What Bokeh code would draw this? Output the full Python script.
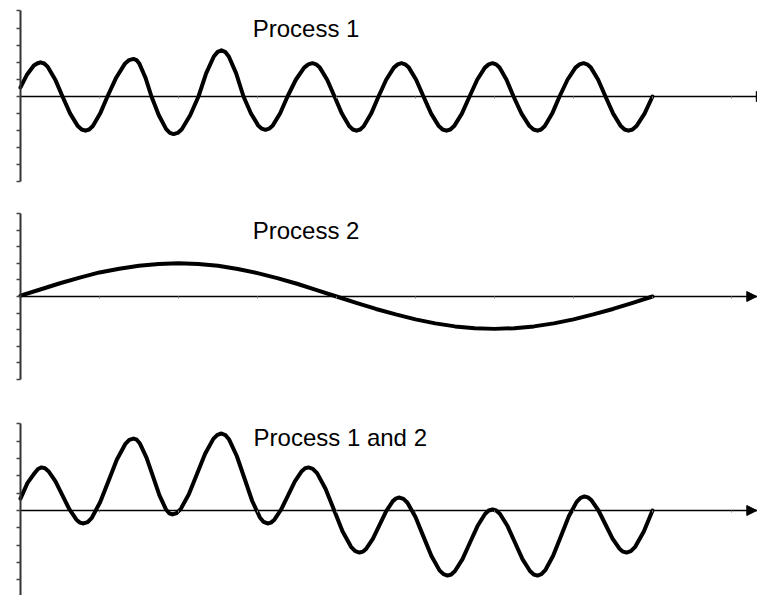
from bokeh.plotting import figure
from bokeh.layouts import column
from bokeh.models import Range1d, FixedTicker, Arrow, NormalHead, CustomJSTickFormatter
from bokeh.core.properties import value
from bokeh.embed import file_html
from bokeh.resources import INLINE

# ---------------- data ----------------
titles = ["Process 1", "Process 2", "Process 1 and 2"]

x_ticks = [1, 2, 3, 4, 5, 6, 7, 8, 9]
y_ticks = [-5, -4, -3, -2, -1, 0, 1, 2, 3, 4, 5]

p1_x = [0.000, 0.084, 0.169, 0.211, 0.253, 0.300, 0.346, 0.439, 0.532, 0.629,
        0.726, 0.775, 0.823, 0.869, 0.916, 1.008, 1.101, 1.211, 1.320, 1.375,
        1.430, 1.468, 1.506, 1.582, 1.658, 1.751, 1.844, 1.891, 1.937, 1.990,
        2.042, 2.148, 2.253, 2.350, 2.447, 2.496, 2.544, 2.590, 2.637, 2.730,
        2.823, 2.916, 3.008, 3.055, 3.101, 3.147, 3.194, 3.287, 3.380, 3.485,
        3.591, 3.643, 3.696, 3.742, 3.789, 3.882, 3.975, 4.068, 4.160, 4.207,
        4.253, 4.300, 4.346, 4.439, 4.532, 4.629, 4.726, 4.775, 4.823, 4.869,
        4.916, 5.008, 5.101, 5.198, 5.295, 5.343, 5.392, 5.441, 5.489, 5.587,
        5.684, 5.781, 5.878, 5.927, 5.975, 6.019, 6.064, 6.152, 6.241, 6.342,
        6.443, 6.494, 6.544, 6.590, 6.637, 6.730, 6.823, 6.924, 7.025, 7.076,
        7.127, 7.173, 7.220, 7.312, 7.405, 7.502, 7.599, 7.647, 7.696, 7.747,
        7.797, 7.899, 8.000]
p1_y = [0.53, 1.29, 1.81, 1.93, 2.00, 1.93, 1.73, 1.00, 0.00, -1.00,
        -1.73, -1.93, -2.00, -1.93, -1.73, -1.00, 0.00, 1.10, 1.91, 2.13,
        2.20, 2.13, 1.91, 1.10, 0.00, -1.10, -1.91, -2.13, -2.20, -2.13,
        -1.91, -1.10, 0.00, 1.35, 2.34, 2.61, 2.70, 2.61, 2.34, 1.35,
        0.00, -0.98, -1.69, -1.88, -1.95, -1.88, -1.69, -0.98, 0.00, 0.98,
        1.69, 1.88, 1.95, 1.88, 1.69, 0.98, 0.00, -1.00, -1.73, -1.93,
        -2.00, -1.93, -1.73, -1.00, 0.00, 0.98, 1.69, 1.88, 1.95, 1.88,
        1.69, 0.98, 0.00, -1.00, -1.73, -1.93, -2.00, -1.93, -1.73, -1.00,
        0.00, 0.98, 1.69, 1.88, 1.95, 1.88, 1.69, 0.98, 0.00, -1.00,
        -1.73, -1.93, -2.00, -1.93, -1.73, -1.00, 0.00, 0.98, 1.69, 1.88,
        1.95, 1.88, 1.69, 0.98, 0.00, -1.00, -1.73, -1.93, -2.00, -1.93,
        -1.73, -1.00, 0.00]

p2_x = [0.00, 0.25, 0.50, 0.75, 1.00, 1.25, 1.50, 1.75, 2.00, 2.25, 2.50,
        2.75, 3.00, 3.25, 3.50, 3.75, 4.00, 4.25, 4.50, 4.75, 5.00, 5.25,
        5.50, 5.75, 6.00, 6.25, 6.50, 6.75, 7.00, 7.25, 7.50, 7.75, 8.00]
p2_y = [0.05, 0.42, 0.80, 1.14, 1.45, 1.67, 1.85, 1.96, 2.00, 1.96, 1.85,
        1.66, 1.41, 1.11, 0.77, 0.39, 0.00, -0.38, -0.75, -1.08, -1.38, -1.62,
        -1.80, -1.91, -1.95, -1.91, -1.80, -1.62, -1.38, -1.08, -0.75, -0.38, 0.00]

p3_x = [0.000, 0.089, 0.177, 0.222, 0.266, 0.310, 0.354, 0.443, 0.531, 0.620,
        0.708, 0.753, 0.797, 0.850, 0.903, 1.008, 1.114, 1.219, 1.325, 1.377,
        1.430, 1.471, 1.512, 1.595, 1.677, 1.759, 1.842, 1.883, 1.924, 1.976,
        2.027, 2.131, 2.234, 2.337, 2.441, 2.492, 2.544, 2.593, 2.641, 2.738,
        2.836, 2.933, 3.030, 3.078, 3.127, 3.170, 3.214, 3.300, 3.387, 3.473,
        3.560, 3.603, 3.646, 3.700, 3.754, 3.861, 3.969, 4.076, 4.184, 4.237,
        4.291, 4.333, 4.375, 4.460, 4.544, 4.628, 4.713, 4.755, 4.797, 4.848,
        4.898, 5.000, 5.101, 5.202, 5.304, 5.354, 5.405, 5.452, 5.500, 5.595,
        5.690, 5.785, 5.880, 5.927, 5.975, 6.022, 6.070, 6.165, 6.259, 6.354,
        6.449, 6.497, 6.544, 6.594, 6.643, 6.742, 6.842, 6.941, 7.040, 7.089,
        7.139, 7.183, 7.228, 7.316, 7.405, 7.494, 7.582, 7.627, 7.671, 7.726,
        7.781, 7.890, 8.000]
p3_y = [0.69, 1.60, 2.15, 2.40, 2.49, 2.44, 2.27, 1.68, 0.87, 0.06,
        -0.53, -0.70, -0.75, -0.67, -0.42, 0.48, 1.71, 2.93, 3.83, 4.08,
        4.16, 4.09, 3.87, 3.06, 1.97, 0.87, 0.06, -0.16, -0.23, -0.15,
        0.08, 0.94, 2.11, 3.28, 4.14, 4.37, 4.45, 4.36, 4.10, 3.15,
        1.85, 0.55, -0.40, -0.66, -0.75, -0.70, -0.53, 0.06, 0.87, 1.68,
        2.27, 2.44, 2.49, 2.41, 2.16, 1.26, 0.03, -1.20, -2.10, -2.35,
        -2.43, -2.38, -2.22, -1.64, -0.84, -0.05, 0.54, 0.70, 0.75, 0.67,
        0.45, -0.38, -1.51, -2.63, -3.46, -3.68, -3.76, -3.70, -3.50, -2.81,
        -1.85, -0.90, -0.20, 0.00, 0.06, 0.00, -0.20, -0.90, -1.85, -2.81,
        -3.50, -3.70, -3.76, -3.68, -3.45, -2.62, -1.48, -0.33, 0.50, 0.73,
        0.81, 0.76, 0.59, 0.00, -0.81, -1.62, -2.21, -2.38, -2.43, -2.35,
        -2.10, -1.22, 0.00]

series = [(p1_x, p1_y), (p2_x, p2_y), (p3_x, p3_y)]

# ---------------- layout / style ----------------
FIG_W = 757
X_RANGE = (-0.253, 9.329)
panels = [
    # height, y_range, title position (data), arrow tip x
    dict(h=198, yr=(-5.965, 5.614), tx=2.94, ty=3.97, arrow_x=9.44),
    dict(h=207, yr=(-6.566, 5.904), tx=2.94, ty=4.00, arrow_x=9.32),
    dict(h=190, yr=(-4.913, 6.069), tx=2.95, ty=4.22, arrow_x=9.32),
]


def make_panel(i):
    cfg = panels[i]
    xs, ys = series[i]
    p = figure(width=FIG_W, height=cfg["h"],
               x_range=Range1d(*X_RANGE), y_range=Range1d(*cfg["yr"]),
               output_backend="svg", toolbar_location=None,
               min_border=0, outline_line_color=None,
               background_fill_color="white", border_fill_color="white")
    p.grid.visible = False

    xa = p.xaxis[0]
    xa.fixed_location = 0
    xa.bounds = (0, 9.5)
    xa.ticker = FixedTicker(ticks=x_ticks)
    xa.formatter = CustomJSTickFormatter(code="return ''")
    xa.major_tick_out = 2
    xa.major_tick_in = 0
    xa.minor_tick_out = 0
    xa.minor_tick_in = 0
    xa.axis_line_width = 1.5
    xa.axis_line_color = "black"
    xa.major_tick_line_color = "#888888"
    xa.major_label_standoff = 0

    ya = p.yaxis[0]
    ya.fixed_location = 0
    ya.bounds = (-5, 5)
    ya.ticker = FixedTicker(ticks=y_ticks)
    ya.formatter = CustomJSTickFormatter(code="return ''")
    ya.major_tick_out = 4
    ya.major_tick_in = 0
    ya.minor_tick_out = 0
    ya.minor_tick_in = 0
    ya.axis_line_width = 2
    ya.axis_line_color = "#333333"
    ya.major_tick_line_color = "#444444"
    ya.major_tick_line_width = 1.5
    ya.major_label_standoff = 0

    p.line(xs, ys, line_color="black", line_width=4,
           line_join="round", line_cap="round")

    p.text(x=[cfg["tx"]], y=[cfg["ty"]], text=[titles[i]],
           text_font=value("Liberation Sans"), text_font_size="24px",
           text_color="black", text_align="left", text_baseline="alphabetic")

    p.add_layout(Arrow(end=NormalHead(size=10, fill_color="black",
                                      line_color="black", line_width=1),
                       x_start=8.6, y_start=0, x_end=cfg["arrow_x"], y_end=0,
                       line_alpha=0))
    return p


layout = column(*[make_panel(i) for i in range(3)], spacing=0)

open("out.html", "w").write(file_html(layout, INLINE))
